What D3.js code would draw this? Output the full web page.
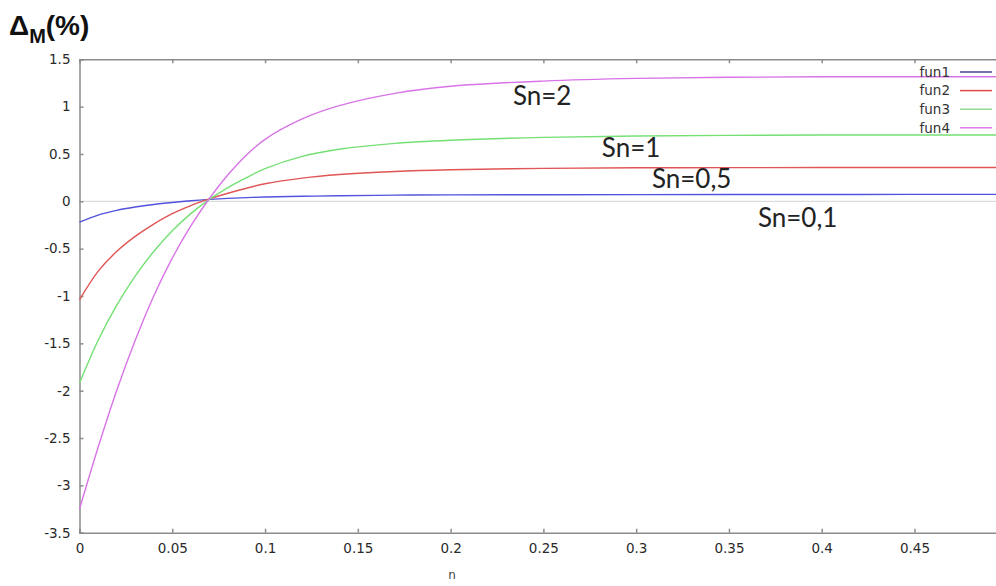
<!DOCTYPE html>
<html lang="en">
<head>
    <meta charset="UTF-8">
    <title>Delta M vs n</title>
    <style>
        body { margin: 0; background: #fff; }
        .axis path, .axis line { stroke: #8c8c8c; stroke-width: 1.5; fill: none; }
        .axis text { font-family: 'DejaVu Sans', sans-serif; font-size: 13.5px; fill: #2a2a2a; }
        .curve { fill: none; stroke-width: 1.4; }
        .sn { font-family: Lato, 'Open Sans', sans-serif; font-size: 26px; fill: #222; }
        .legend text { font-family: 'DejaVu Sans', sans-serif; font-size: 13.5px; fill: #333; }
    </style>
</head>
<body>
    <div id='chart'></div>

    <script src='https://cdnjs.cloudflare.com/ajax/libs/d3/7.8.5/d3.min.js'></script>
    <script type='text/javascript'>
        const nValues = [0, 0.01, 0.02, 0.03, 0.04, 0.05, 0.06, 0.07, 0.08, 0.09, 0.1, 0.12, 0.14, 0.17, 0.2, 0.25, 0.3, 0.35, 0.4, 0.45, 0.495];
        const fun1 = [-0.22, -0.145, -0.095, -0.06, -0.033, -0.012, 0.006, 0.02, 0.031, 0.039, 0.045, 0.053, 0.059, 0.065, 0.068, 0.07, 0.071, 0.072, 0.072, 0.073, 0.073];
        const fun2 = [-1.04, -0.74, -0.53, -0.37, -0.24, -0.13, -0.045, 0.025, 0.085, 0.138, 0.185, 0.245, 0.283, 0.315, 0.333, 0.348, 0.354, 0.356, 0.357, 0.357, 0.357];
        const fun3 = [-1.92, -1.47, -1.10, -0.79, -0.53, -0.31, -0.13, 0.02, 0.145, 0.25, 0.345, 0.475, 0.55, 0.612, 0.645, 0.675, 0.69, 0.697, 0.70, 0.70, 0.70];
        const fun4 = [-3.25, -2.60, -2.0, -1.47, -1.0, -0.60, -0.26, 0.03, 0.28, 0.49, 0.655, 0.87, 1.01, 1.14, 1.215, 1.27, 1.298, 1.31, 1.315, 1.315, 1.315];

        const seriesNames = ['fun1', 'fun2', 'fun3', 'fun4'];
        const seriesColors = ['#5252de', '#e05555', '#74e074', '#d874e6'];
        const legendColors = ['#46468e', '#e04848', '#94d894', '#e07ae6'];

        const xTicks = [0, 0.05, 0.1, 0.15, 0.2, 0.25, 0.3, 0.35, 0.4, 0.45];
        const xTickLabels = ['0', '0.05', '0.1', '0.15', '0.2', '0.25', '0.3', '0.35', '0.4', '0.45'];
        const yTicks = [1.5, 1, 0.5, 0, -0.5, -1, -1.5, -2, -2.5, -3, -3.5];
        const yTickLabels = ['1.5', '1', '0.5', '0', '-0.5', '-1', '-1.5', '-2', '-2.5', '-3', '-3.5'];

        // curve annotations: [text, n, value at baseline]
        const snLabels = [['Sn=2', 0.2336, 1.017], ['Sn=1', 0.2815, 0.468], ['Sn=0,5', 0.3085, 0.14], ['Sn=0,1', 0.3656, -0.271]];

        const width = 996, height = 586;
        const margin = { left: 79.5, top: 59.3, right: -2, bottom: 53.3 };

        let svg = d3.select('#chart')
                    .append('svg')
                      .attr('width', width)
                      .attr('height', height);

        let xScale = d3.scaleLinear().domain([0, 0.495]).range([margin.left, width - margin.right]);
        let yScale = d3.scaleLinear().domain([-3.5, 1.5]).range([height - margin.bottom, margin.top]);

        // zero line
        svg.append('line')
             .attr('x1', xScale(0)).attr('x2', xScale(0.495))
             .attr('y1', yScale(0)).attr('y2', yScale(0))
             .attr('stroke', '#d4d4d4').attr('stroke-width', 1);

        // top border with inward ticks
        svg.append('g')
             .attr('class', 'axis')
             .attr('transform', `translate(0, ${margin.top})`)
           .call(d3.axisTop(xScale).tickValues(xTicks).tickSize(-4).tickFormat(''));

        // bottom axis
        svg.append('g')
             .attr('class', 'axis x-axis')
             .attr('transform', `translate(0, ${height - margin.bottom})`)
           .call(d3.axisBottom(xScale).tickValues(xTicks).tickSize(-4).tickPadding(11)
                   .tickFormat((d, i) => xTickLabels[i]));

        // left axis
        svg.append('g')
             .attr('class', 'axis y-axis')
             .attr('transform', `translate(${margin.left}, 0)`)
           .call(d3.axisLeft(yScale).tickValues(yTicks).tickSize(-4).tickPadding(9)
                   .tickFormat((d, i) => yTickLabels[i]));

        // curves
        const allSeries = [fun1, fun2, fun3, fun4];
        const line = d3.line()
                       .x((d, i) => xScale(nValues[i]))
                       .y(d => yScale(d))
                       .curve(d3.curveCatmullRom.alpha(0.5));

        svg.selectAll('path.curve')
             .data(allSeries)
             .enter()
           .append('path')
             .attr('class', 'curve')
             .attr('stroke', (d, i) => seriesColors[i])
             .attr('d', line);

        // legend
        let legend = svg.append('g').attr('class', 'legend');
        seriesNames.forEach((name, i) => {
            const y = 72 + i * 18.6;
            legend.append('text')
                  .attr('x', 950).attr('y', y)
                  .attr('dy', '0.35em')
                  .attr('text-anchor', 'end')
                  .text(name);
            legend.append('line')
                  .attr('x1', 960).attr('x2', 992)
                  .attr('y1', y).attr('y2', y)
                  .attr('stroke', legendColors[i])
                  .attr('stroke-width', 1.5);
        });

        // Sn annotations
        svg.selectAll('text.sn')
             .data(snLabels)
             .enter()
           .append('text')
             .attr('class', 'sn')
             .attr('x', d => xScale(d[1]))
             .attr('y', d => yScale(d[2]))
             .text(d => d[0]);

        // axis title
        let title = svg.append('text')
                       .attr('x', 9).attr('y', 35)
                       .style('font-family', "'Liberation Sans', Arial, sans-serif")
                       .style('font-weight', 'bold')
                       .style('font-size', '28px')
                       .attr('fill', '#111');
        title.append('tspan').text('\u0394');
        title.append('tspan').attr('dy', 8).style('font-size', '20px').text('M');
        title.append('tspan').attr('dy', -8).text('(%)');

        svg.append('text')
             .attr('x', 452).attr('y', 579)
             .attr('text-anchor', 'middle')
             .style('font-family', "'DejaVu Sans', sans-serif")
             .style('font-size', '12px')
             .attr('fill', '#444')
             .text('n');
    </script>
</body>
</html>
